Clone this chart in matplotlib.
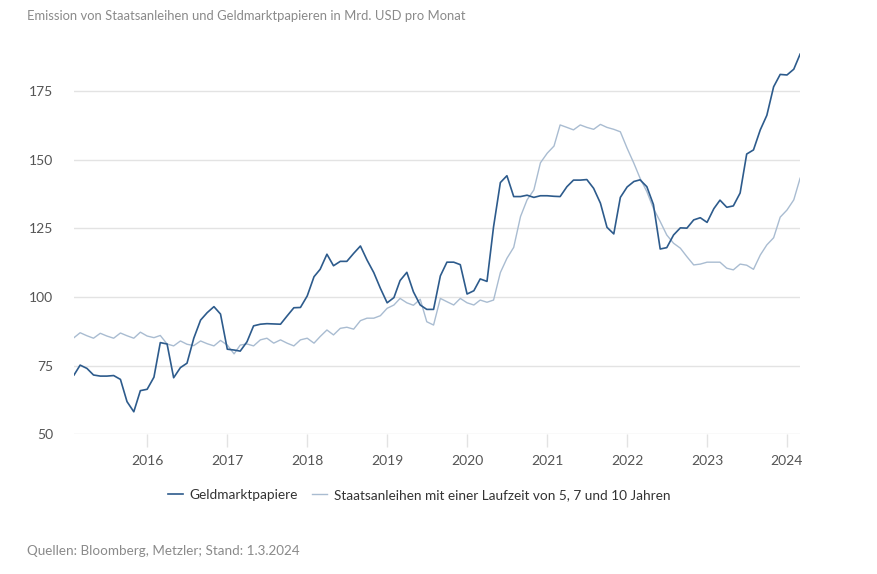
import numpy as np
import pandas as pd
import matplotlib
matplotlib.use("Agg")
import matplotlib.pyplot as plt

plt.rcParams["font.family"] = ["Lato", "DejaVu Sans"]

# monthly values, Feb 2015 - Mar 2024 (Mrd. USD)
dates = pd.date_range("2015-02-01", "2024-03-01", freq="MS")

geldmarkt = [
    71.6, 75.2, 74.0, 71.6, 71.2, 71.2, 71.4, 70.0, 61.9, 58.2,
    65.9, 66.4, 70.8, 83.4, 82.9, 70.6, 74.3, 75.9, 85.0, 91.6,
    94.3, 96.5, 93.8, 81.0, 80.7, 80.3, 83.7, 89.5, 90.1, 90.3,
    90.2, 90.1, 93.1, 96.1, 96.2, 100.4, 107.4, 110.1, 115.6, 111.4,
    113.0, 113.0, 115.9, 118.6, 113.5, 108.9, 103.2, 97.9, 99.8, 106.0,
    109.0, 101.9, 97.1, 95.5, 95.5, 107.7, 112.7, 112.7, 111.8, 101.1,
    102.3, 106.6, 105.7, 125.6, 141.7, 144.2, 136.6, 136.6, 137.1, 136.3,
    136.9, 136.9, 136.7, 136.6, 140.2, 142.6, 142.6, 142.8, 139.6, 134.2,
    125.4, 123.0, 136.3, 140.1, 142.1, 142.7, 140.2, 133.7, 117.5, 118.0,
    122.6, 125.2, 125.1, 128.1, 128.9, 127.2, 132.2, 135.3, 132.7, 133.2,
    137.9, 152.1, 153.6, 160.9, 166.2, 176.6, 181.1, 180.9, 183.0, 188.5,
]

staatsanleihen = [
    85.2, 87.0, 85.9, 85.0, 86.8, 85.8, 85.0, 86.9, 85.9, 85.0,
    87.2, 85.8, 85.2, 86.0, 82.9, 82.2, 84.0, 82.8, 82.3, 84.0,
    83.0, 82.2, 84.2, 82.5, 79.3, 82.5, 82.9, 82.2, 84.4, 85.0,
    83.2, 84.4, 83.2, 82.2, 84.4, 85.0, 83.2, 85.6, 88.0, 86.2,
    88.6, 89.0, 88.3, 91.4, 92.3, 92.3, 93.2, 95.9, 97.1, 99.5,
    97.9, 97.0, 99.2, 91.0, 89.8, 99.5, 98.3, 97.1, 99.5, 97.9,
    97.1, 98.9, 98.1, 98.9, 108.9, 114.1, 118.1, 129.3, 135.4, 139.0,
    148.9, 152.4, 155.0, 162.7, 161.8, 160.9, 162.7, 161.8, 161.1, 162.9,
    161.8, 161.1, 160.2, 154.2, 148.7, 143.3, 138.4, 132.3, 127.5, 122.6,
    119.6, 117.8, 114.7, 111.7, 112.0, 112.7, 112.7, 112.7, 110.5, 109.9,
    112.0, 111.6, 110.1, 115.3, 119.0, 121.6, 129.1, 131.7, 135.4, 143.3,
]

yticks = [50, 75, 100, 125, 150, 175]
xtick_years = list(range(2016, 2025))

title = "Emission von Staatsanleihen und Geldmarktpapieren in Mrd. USD pro Monat"
source = "Quellen: Bloomberg, Metzler; Stand: 1.3.2024"

fig = plt.figure(figsize=(8.78, 5.74), dpi=100)
ax = fig.add_axes([0.0843, 0.2434, 0.8270, 0.6695])

ax.plot(dates, staatsanleihen, color="#a9bcd1", lw=1.0,
        label="Staatsanleihen mit einer Laufzeit von 5, 7 und 10 Jahren", zorder=3)
ax.plot(dates, geldmarkt, color="#2d5b8c", lw=1.2, label="Geldmarktpapiere", zorder=4)

ax.set_xlim(dates[0], dates[-1])
ax.set_ylim(50, 190)
ax.set_yticks(yticks)
ax.set_xticks([pd.Timestamp(f"{y}-01-01") for y in xtick_years])
ax.set_xticklabels([str(y) for y in xtick_years])

ax.grid(axis="y", color="#e3e3e3", lw=1.0)
ax.set_axisbelow(True)
for s in ["top", "right", "left", "bottom"]:
    ax.spines[s].set_visible(False)
ax.tick_params(axis="y", length=0, pad=15, labelsize=10, labelcolor="#555555")
ax.tick_params(axis="x", length=9, width=1, color="#e3e3e3", pad=6,
               labelsize=10, labelcolor="#555555")

fig.text(27 / 878, 1 - 16 / 574, title, fontsize=9.4, color="#8a8a8a", va="center", ha="left")
fig.text(27 / 878, 1 - 551 / 574, source, fontsize=9.7, color="#8a8a8a", va="center", ha="left")

h, l = ax.get_legend_handles_labels()
fig.legend(h[::-1], l[::-1], loc="center", bbox_to_anchor=(419 / 878, 1 - 495 / 574),
           ncol=2, frameon=False, fontsize=9.8, handlelength=1.1, handletextpad=0.45,
           columnspacing=1.1, labelcolor="#333333")

fig.savefig("out.png", dpi=100)
